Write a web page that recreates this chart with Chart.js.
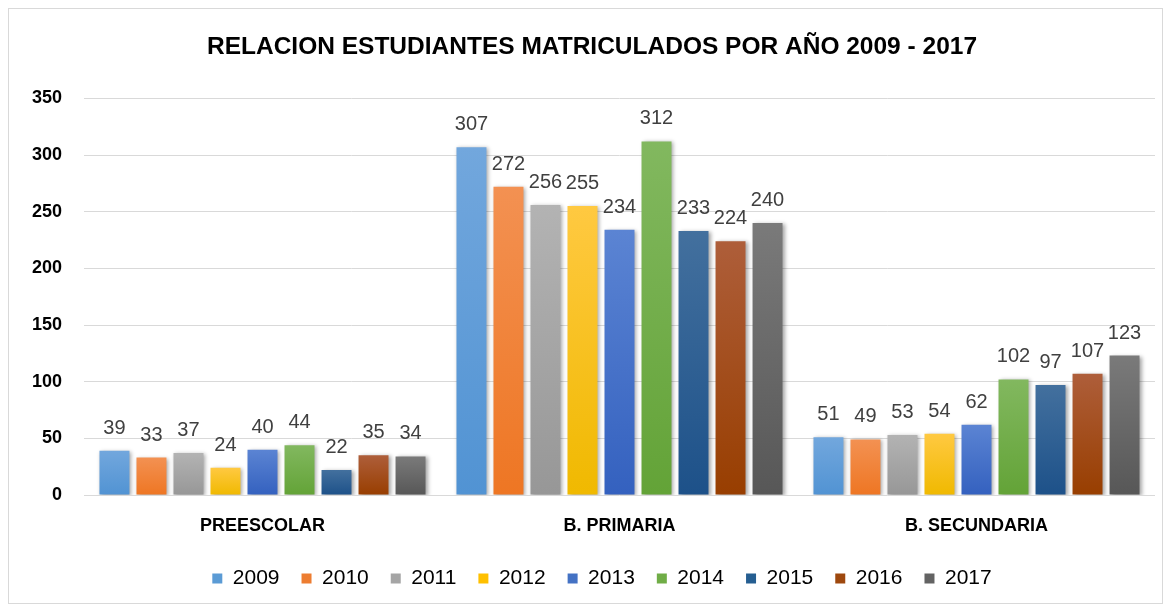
<!DOCTYPE html>
<html>
<head>
<meta charset="utf-8">
<script src="https://cdn.jsdelivr.net/npm/chart.js@4.4.1/dist/chart.umd.min.js"></script>
<style>
    html, body { margin: 0; padding: 0; background: #fff; }
    #box {
        position: absolute;
        left: 8px;
        top: 8px;
        width: 1153px;
        height: 594px;
        border: 1px solid #d9d9d9;
    }
</style>
</head>
<body>
<div id="box"><canvas id="chart" width="1153" height="594"></canvas></div>
<script>
(function () {
    "use strict";

    const categories = ["PREESCOLAR", "B. PRIMARIA", "B. SECUNDARIA"];
    const years = ["2009", "2010", "2011", "2012", "2013", "2014", "2015", "2016", "2017"];

    // values per level, one per year
    const preescolar = [39, 33, 37, 24, 40, 44, 22, 35, 34];
    const primaria = [307, 272, 256, 255, 234, 312, 233, 224, 240];
    const secundaria = [51, 49, 53, 54, 62, 102, 97, 107, 123];

    const yTicks = [0, 50, 100, 150, 200, 250, 300, 350];

    // top / bottom gradient colours and legend colour per year
    const colors = [
        ["#72a7dd", "#5193d3", "#5b9bd5"],
        ["#f39152", "#ee7623", "#ed7d31"],
        ["#b3b3b3", "#979797", "#a5a5a5"],
        ["#ffc941", "#f0b900", "#ffc000"],
        ["#5b84d3", "#3461bf", "#4472c4"],
        ["#82b85f", "#63a337", "#70ad47"],
        ["#43709e", "#1d5189", "#255e91"],
        ["#ae5e3a", "#983e00", "#9e480e"],
        ["#7a7a7a", "#575757", "#636363"],
    ];

    const barGradient = (i) => (ctx) => {
        const chart = ctx.chart;
        const y = chart.scales && chart.scales.y;
        if (!chart.chartArea || !y || ctx.raw === undefined) {
            return colors[i][2];
        }
        const top = y.getPixelForValue(ctx.raw);
        const bottom = y.getPixelForValue(0);
        if (!(bottom > top)) {
            return colors[i][2];
        }
        const g = chart.ctx.createLinearGradient(0, top, 0, bottom);
        g.addColorStop(0, colors[i][0]);
        g.addColorStop(1, colors[i][1]);
        return g;
    };

    const datasets = years.map((year, i) => ({
        label: year,
        data: [preescolar[i], primaria[i], secundaria[i]],
        backgroundColor: barGradient(i),
        borderWidth: 0,
        categoryPercentage: 0.933,
        barPercentage: 0.81,
    }));

    // bar shadows + value labels
    const barExtras = {
        id: "barExtras",
        afterLayout(chart) {
            // legend sits a bit right of centre in the original
            if (chart.legend) {
                chart.legend.left += 10;
                chart.legend.right += 10;
            }
        },
        beforeDatasetsDraw(chart) {
            const ctx = chart.ctx;
            ctx.save();
            ctx.shadowColor = "rgba(0,0,0,0.35)";
            ctx.shadowBlur = 4;
            ctx.shadowOffsetX = 2;
            ctx.shadowOffsetY = 1;
        },
        afterDatasetsDraw(chart) {
            const ctx = chart.ctx;
            ctx.restore();
            ctx.save();
            ctx.font = "20px 'Liberation Sans'";
            ctx.fillStyle = "#404040";
            ctx.textAlign = "center";
            ctx.textBaseline = "alphabetic";
            chart.data.datasets.forEach((ds, di) => {
                chart.getDatasetMeta(di).data.forEach((bar, j) => {
                    ctx.fillText(String(ds.data[j]), bar.x, bar.y - 17);
                });
            });
            ctx.restore();
        },
    };

    new Chart(document.getElementById("chart"), {
        type: "bar",
        data: {
            labels: categories,
            datasets: datasets,
        },
        plugins: [barExtras],
        options: {
            responsive: false,
            animation: false,
            layout: {
                padding: { left: 20, right: 7, top: 0, bottom: 4 },
            },
            plugins: {
                title: {
                    display: true,
                    text: "RELACION ESTUDIANTES MATRICULADOS POR AÑO 2009 - 2017",
                    color: "#000",
                    font: { family: "'Liberation Sans'", size: 24.5, weight: "bold" },
                    padding: { top: 24, bottom: 36 },
                },
                legend: {
                    position: "bottom",
                    labels: {
                        boxWidth: 10,
                        boxHeight: 10,
                        padding: 22,
                        color: "#000",
                        font: { family: "'Liberation Sans'", size: 21 },
                        generateLabels(chart) {
                            const items = Chart.defaults.plugins.legend.labels.generateLabels(chart);
                            items.forEach((it) => {
                                it.fillStyle = colors[it.datasetIndex][2];
                                it.strokeStyle = colors[it.datasetIndex][2];
                                it.lineWidth = 0;
                            });
                            return items;
                        },
                    },
                },
                tooltip: { enabled: false },
            },
            scales: {
                x: {
                    afterFit: (scale) => {
                        scale.height = 51;
                    },
                    grid: { display: false },
                    border: { display: false },
                    ticks: {
                        color: "#000",
                        padding: 12,
                        font: { family: "'Liberation Sans'", size: 18, weight: "bold" },
                    },
                },
                y: {
                    min: 0,
                    max: 350,
                    afterFit: (scale) => {
                        scale.width = 55;
                    },
                    afterBuildTicks: (scale) => {
                        scale.ticks = yTicks.map((v) => ({ value: v }));
                    },
                    grid: { color: "#d9d9d9", lineWidth: 1, drawTicks: false },
                    border: { display: false },
                    ticks: {
                        color: "#000",
                        padding: 22,
                        font: { family: "'Liberation Sans'", size: 18, weight: "bold" },
                    },
                },
            },
        },
    });
})();
</script>
</body>
</html>
